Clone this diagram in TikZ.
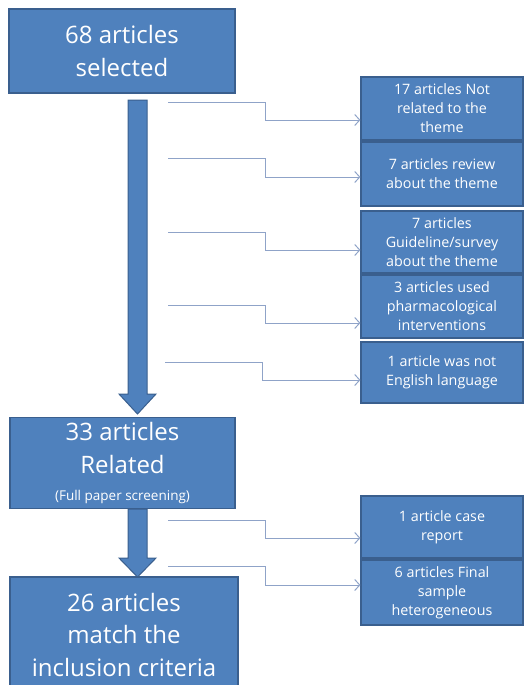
\documentclass[tikz,border=0pt]{standalone}
\usepackage{fontspec}
\setmainfont{Open Sans}
\usetikzlibrary{arrows.meta}
\definecolor{boxblue}{HTML}{4F81BD}
\definecolor{boxedge}{HTML}{3A5F8E}
\definecolor{conncol}{HTML}{8FA3C8}
\begin{document}
\begin{tikzpicture}[x=1pt,y=-1pt,
  bigbox/.style={draw=boxedge, line width=1.2pt, fill=boxblue, text=white, align=center, inner sep=0pt, font=\fontsize{24}{32.5}\selectfont},
  smallbox/.style={bigbox, minimum width=162pt, minimum height=62pt, font=\fontsize{14.3}{19}\selectfont},
  conn/.style={draw=conncol, line width=1pt, -{Straight Barb[length=5pt,width=11pt]}},
  fat/.style={fill=boxblue, draw=boxedge, line width=1pt}]
\useasboundingbox (0,0) rectangle (525,685);
\clip (0,0) rectangle (525,685);
% main boxes
\node[bigbox, minimum width=226pt, minimum height=84pt] (n1) at (122,51) {68 articles\\selected};
\node[bigbox, minimum width=225pt, minimum height=91pt] (n2) at (122.5,463) {33 articles\\Related\\[-5pt]{\fontsize{13.5}{15}\selectfont (Full paper screening)}};
\node[bigbox, minimum width=228pt, minimum height=115pt] (n3) at (124,634.5) {26 articles\\match the\\inclusion criteria};
% thick arrows
\draw[fat] (128,100) -- (147,100) -- (147,394) -- (156,394) -- (137.5,414) -- (119,394) -- (128,394) -- cycle;
\draw[fat] (128,509) -- (147,509) -- (147,558) -- (156,558) -- (137.5,577) -- (119,558) -- (128,558) -- cycle;
% side boxes
\node[smallbox, minimum height=63pt] (a) at (442,108.5) {17 articles Not\\related to the\\theme};
\node[smallbox, minimum height=64pt] (b) at (442,174) {7 articles review\\about the theme};
\node[smallbox] (c) at (442,242) {7 articles\\Guideline/survey\\about the theme};
\node[smallbox, minimum height=63pt] (d) at (442,306.5) {3 articles used\\pharmacological\\interventions};
\node[smallbox, minimum height=61pt] (e) at (442,372.5) {1 article was not\\English language};
\node[smallbox] (f) at (442,527) {1 article case\\report};
\node[smallbox, minimum height=65pt] (g) at (442,592.5) {6 articles Final\\sample\\heterogeneous};
% connectors
\coordinate (s1) at (168,102);
\coordinate (s2) at (168,158);
\coordinate (s3) at (168,232);
\coordinate (s4) at (168,305);
\coordinate (s5) at (165,362);
\coordinate (s6) at (168,520);
\coordinate (s7) at (168,566);
\draw[conn] (s1) -- ++(97,0) |- ([yshift=-11.5pt]a.west);
\draw[conn] (s2) -- ++(97,0) |- ([yshift=-3pt]b.west);
\draw[conn] (s3) -- ++(97,0) |- ([yshift=-8pt]c.west);
\draw[conn] (s4) -- ++(97,0) |- ([yshift=-16.5pt]d.west);
\draw[conn] (s5) -- ++(97,0) |- ([yshift=-7.5pt]e.west);
\draw[conn] (s6) -- ++(97,0) |- ([yshift=-11pt]f.west);
\draw[conn] (s7) -- ++(97,0) |- ([yshift=7.5pt]g.west);
\end{tikzpicture}
\end{document}
